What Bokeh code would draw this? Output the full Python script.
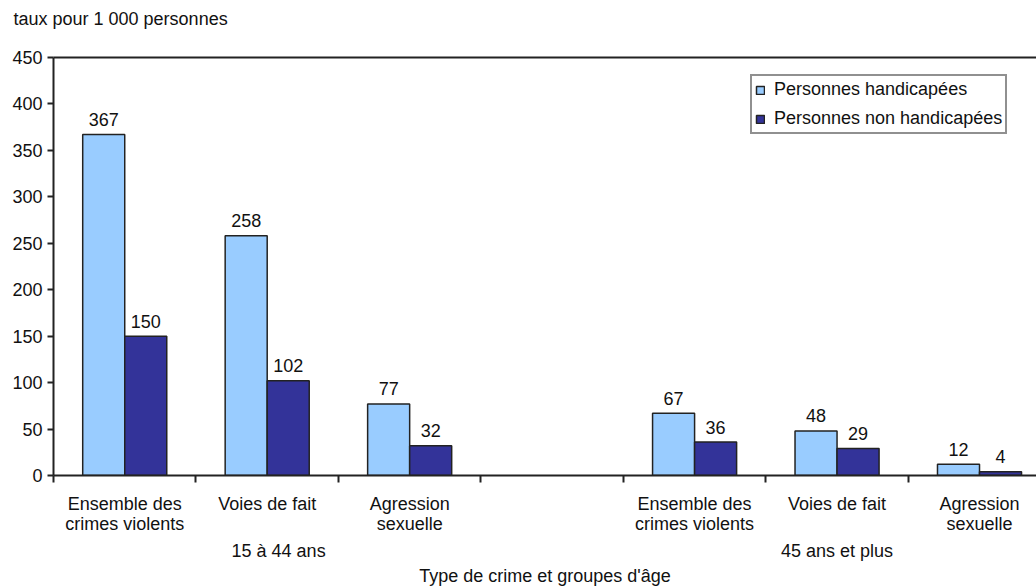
from bokeh.plotting import figure
from bokeh.models import (ColumnDataSource, Range1d, FixedTicker, LinearAxis,
                          Legend, LegendItem)
from bokeh.core.properties import value
from bokeh.embed import file_html
from bokeh.resources import INLINE

# Rates per 1,000 persons, by crime type and age group
crime_types = ["Ensemble des\ncrimes violents", "Voies de fait", "Agression\nsexuelle"]
age_groups = ["15 à 44 ans", "45 ans et plus"]
handicapees = [367, 258, 77, 67, 48, 12]
non_handicapees = [150, 102, 32, 36, 29, 4]
y_ticks = [0, 50, 100, 150, 200, 250, 300, 350, 400, 450]

# category slots: three for each age group with an empty slot between them
slots = [0.5, 1.5, 2.5, 4.5, 5.5, 6.5]
group_centres = [1.58, 5.5]
labels_all = crime_types + crime_types

FONT = "Liberation Sans"
FS = "18px"
INK = "#222222"
TXT = "#111111"
LIGHT = "#99CCFF"
DARK = "#333399"
bw = 0.295

src = ColumnDataSource(dict(
    x_h=[s - bw / 2 for s in slots],
    x_n=[s + bw / 2 for s in slots],
    h=handicapees,
    n=non_handicapees,
    h_txt=[str(v) for v in handicapees],
    n_txt=[str(v) for v in non_handicapees],
))

p = figure(width=1036, height=588, output_backend="svg", toolbar_location=None,
           x_range=Range1d(0, 6.9), y_range=Range1d(0, 450),
           min_border_left=53, min_border_right=0, min_border_top=57,
           min_border_bottom=113, x_axis_location=None, y_axis_location=None)
p.outline_line_color = None
p.xgrid.visible = False
p.ygrid.visible = False
p.background_fill_color = "white"
p.border_fill_color = "white"

r_h = p.vbar(x="x_h", top="h", width=bw, bottom=0, source=src,
             fill_color=LIGHT, line_color=INK, line_width=1.5)
r_n = p.vbar(x="x_n", top="n", width=bw, bottom=0, source=src,
             fill_color=DARK, line_color=INK, line_width=1.5)

for col, xcol in (("h", "x_h"), ("n", "x_n")):
    p.text(x=xcol, y=col, text=col + "_txt", source=src, text_align="center",
           text_baseline="alphabetic", y_offset=-15, text_font=value(FONT),
           text_font_size=value(FS), text_color=TXT)


def style_text(ax):
    ax.major_label_text_font = FONT
    ax.major_label_text_font_size = FS
    ax.major_label_text_color = TXT
    ax.axis_label_text_font = FONT
    ax.axis_label_text_font_size = FS
    ax.axis_label_text_font_style = "normal"
    ax.axis_label_text_color = TXT


# y axis
yax = LinearAxis(ticker=FixedTicker(ticks=y_ticks))
yax.major_tick_out = 6
yax.major_tick_in = 0
yax.minor_tick_out = 0
yax.minor_tick_in = 0
yax.major_label_standoff = 5
yax.axis_line_color = INK
yax.axis_line_width = 2
yax.major_tick_line_color = INK
yax.major_tick_line_width = 2
style_text(yax)
p.add_layout(yax, "left")

# x axis: crime-type labels at slot centres, tick marks on slot boundaries
xax = LinearAxis(ticker=FixedTicker(ticks=slots, minor_ticks=list(range(0, 8))))
xax.major_label_overrides = {s: t for s, t in zip(slots, labels_all)}
xax.major_tick_out = 0
xax.major_tick_in = 0
xax.minor_tick_out = 7
xax.minor_tick_in = 0
xax.minor_tick_line_color = INK
xax.minor_tick_line_width = 2
xax.axis_line_color = INK
xax.axis_line_width = 2
xax.major_label_standoff = 11
style_text(xax)
xax.major_label_text_line_height = 1.0
p.add_layout(xax, "below")

# second row: age groups, plus the axis title
gax = LinearAxis(ticker=FixedTicker(ticks=group_centres),
                 axis_label="Type de crime et groupes d'âge")
gax.major_label_overrides = {g: t for g, t in zip(group_centres, age_groups)}
gax.axis_line_color = None
gax.major_tick_line_color = None
gax.minor_tick_line_color = None
gax.major_tick_out = 0
gax.major_tick_in = 0
gax.minor_tick_out = 0
gax.minor_tick_in = 0
gax.major_label_standoff = 4
gax.axis_label_standoff = 2
style_text(gax)
p.add_layout(gax, "below")

# top frame line
top = LinearAxis(ticker=FixedTicker(ticks=[]))
top.axis_line_color = INK
top.axis_line_width = 2
top.major_tick_out = 0
top.minor_tick_out = 0
top.major_label_text_font_size = "0px"
p.add_layout(top, "above")

# unit caption in the top-left corner (second empty line lifts it clear of the frame)
p.title.text = "taux pour 1 000 personnes\n"
p.title.align = "left"
p.title.vertical_align = "top"
p.title.offset = -40
p.title.standoff = 14
p.title.text_font = FONT
p.title.text_font_size = FS
p.title.text_font_style = "normal"
p.title.text_color = TXT

legend = Legend(items=[LegendItem(label="Personnes handicapées", renderers=[r_h]),
                       LegendItem(label="Personnes non handicapées", renderers=[r_n])],
                location=(697, 341))
legend.glyph_width = 10
legend.glyph_height = 10
legend.label_height = 18
legend.spacing = 8
legend.padding = 3
legend.label_standoff = 9
legend.label_text_font = FONT
legend.label_text_font_size = FS
legend.label_text_color = TXT
legend.border_line_color = INK
legend.border_line_width = 2
legend.background_fill_alpha = 1
p.add_layout(legend)

open("out.html", "w").write(file_html(p, INLINE))
